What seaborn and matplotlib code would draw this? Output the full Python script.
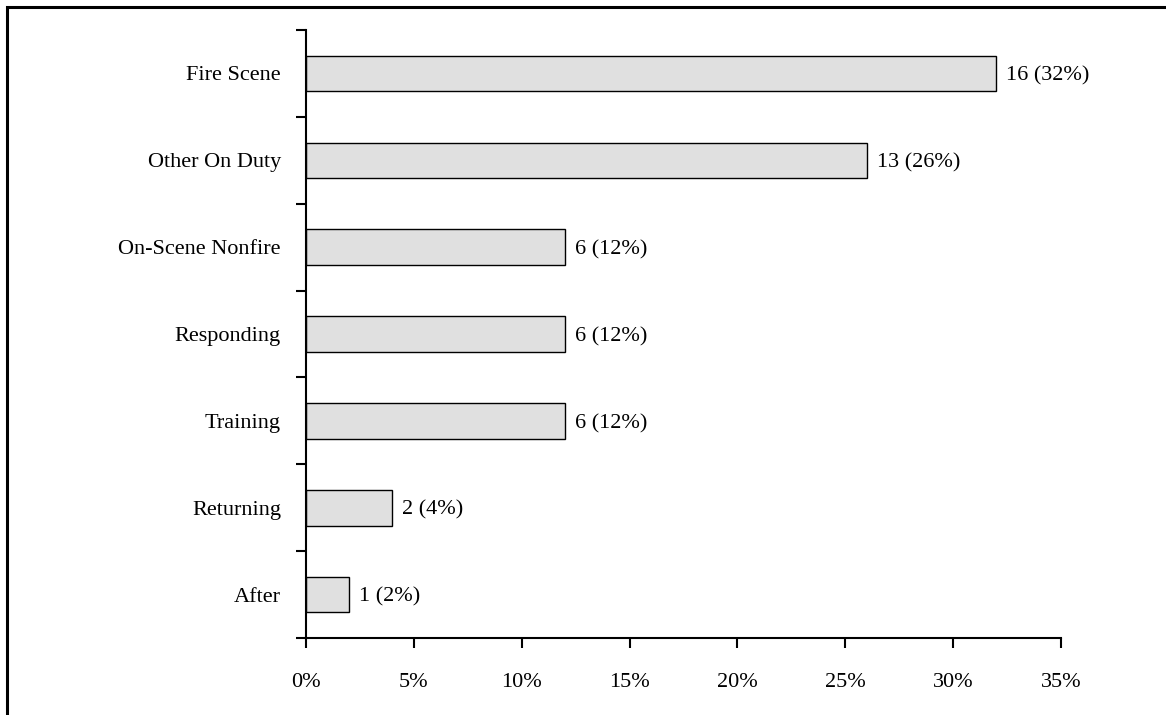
import numpy as np
import pandas as pd
import matplotlib
matplotlib.use('Agg')
import matplotlib.pyplot as plt
import seaborn as sns
from matplotlib.patches import Rectangle
from matplotlib.ticker import FuncFormatter, MultipleLocator, FixedLocator

# data
categories = ['Fire Scene', 'Other On Duty', 'On-Scene Nonfire', 'Responding',
              'Training', 'Returning', 'After']
counts = [16, 13, 6, 6, 6, 2, 1]
percents = [32, 26, 12, 12, 12, 4, 2]

df = pd.DataFrame({'category': categories, 'percent': percents, 'count': counts})

sns.set_style('white')
plt.rcParams['font.family'] = ['Liberation Serif', 'DejaVu Serif']
plt.rcParams['font.size'] = 16
plt.rcParams['text.color'] = 'black'
plt.rcParams['xtick.color'] = 'black'
plt.rcParams['ytick.color'] = 'black'

fig = plt.figure(figsize=(11.66, 7.15), dpi=100)
ax = fig.add_axes([0.2624, 0.1077, 0.6476, 0.8503])

sns.barplot(data=df, x='percent', y='category', orient='h', color='#e0e0e0',
            edgecolor='black', linewidth=1, width=0.41, saturation=1, ax=ax)

# value labels next to each bar
for i, (c, p) in enumerate(zip(counts, percents)):
    ax.text(p + 0.45, i, f'{c} ({p}%)', va='center_baseline', ha='left',
            fontsize=16, color='black')

ax.set_xlim(0, 35)
ax.set_ylim(len(categories) - 0.5, -0.5)
ax.xaxis.set_major_locator(MultipleLocator(5))
ax.xaxis.set_major_formatter(FuncFormatter(lambda v, _: f'{v:.0f}%'))
ax.set_xlabel('')
ax.set_ylabel('')

# category labels centred, tick marks on the boundaries
ax.tick_params(axis='y', which='major', length=0, pad=18, labelsize=16)
ax.yaxis.set_minor_locator(FixedLocator(np.arange(-0.5, len(categories), 1)))
ax.tick_params(axis='y', which='minor', length=7, width=1.5, direction='out', left=True)
ax.tick_params(axis='x', which='major', length=7, width=1.5, direction='out',
               bottom=True, pad=18, labelsize=16)

for side in ['top', 'right']:
    ax.spines[side].set_visible(False)
for side in ['left', 'bottom']:
    ax.spines[side].set_linewidth(1.5)
    ax.spines[side].set_color('black')

# outer frame (left and top edges visible)
fig.patches.append(Rectangle((7 / 1166, -0.2), 1.2, 1.2 - 7 / 715,
                             transform=fig.transFigure, fill=False,
                             edgecolor='black', linewidth=2.2))

fig.savefig('out.png', dpi=100)
